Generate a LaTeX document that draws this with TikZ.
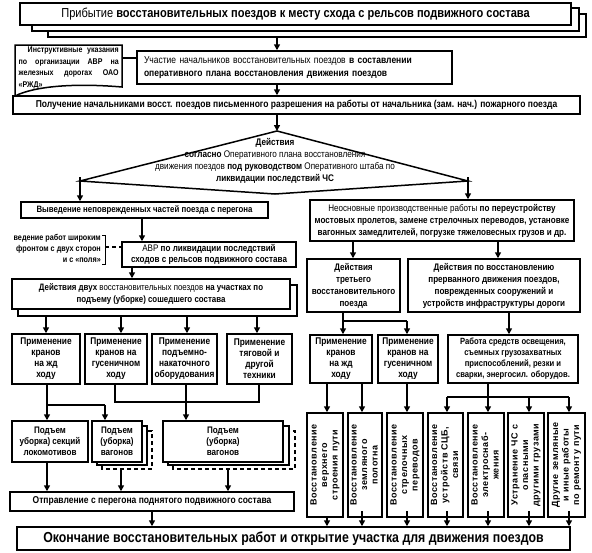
\documentclass[tikz,border=0pt]{standalone}
\usepackage{fontspec}
\usepackage{graphicx}
\setmainfont{Liberation Sans}[FakeStretch=0.85]
\newfontfamily\vfont{Liberation Sans}[LetterSpace=6]
\usetikzlibrary{arrows.meta}
\tikzset{
  bx/.style={draw, line width=1.5pt, fill=white, inner sep=1.5pt, align=center, font=\bfseries\fontsize{9.5}{12}\selectfont},
  arr/.style={line width=1.5pt, -{Triangle[length=6pt,width=6pt]}},
  ln/.style={line width=1.5pt},
  sh/.style={draw, line width=1.5pt, fill=white},
  bb/.style={bx, minimum height=50, font=\bfseries\fontsize{9.8}{11}\selectfont},
  lb/.style={bx, minimum height=41, font=\bfseries\fontsize{9.5}{11}\selectfont},
  vb/.style={bx, minimum height=104, inner sep=0.5pt, font=\vfont\bfseries\fontsize{9}{10.5}\selectfont},
}
\newcommand\vtext[1]{\rotatebox{90}{\begin{tabular}{@{}c@{}}#1\end{tabular}}}
\begin{document}
\begin{tikzpicture}[x=1pt,y=-1pt]
\fill[white] (0,0) rectangle (592,552);
\useasboundingbox (0,0) rectangle (592,552);

% ---- top
\draw[sh] (48,14) rectangle (586,37);
\draw[sh] (32,8) rectangle (579,31);
\node[bx, minimum width=551, minimum height=22, font=\bfseries\fontsize{13}{15}\selectfont] (top) at (295.5,14) {\textmd{Прибытие} восстановительных поездов к месту схода с рельсов подвижного состава};
\coordinate (topS) at (277,37);

% ---- instruction document
\draw[sh] (15,45) -- (122,45) -- (122,87) .. controls (75,83) and (35,86) .. (15,96) -- cycle;
\node[anchor=north west, inner sep=0, align=left, font=\bfseries\fontsize{8.3}{11.5}\selectfont] (instr) at (18.5,47) {\makebox[100pt][s]{\hspace*{9pt}Инструктивные указания}\\ \makebox[100pt][s]{по организации АВР на}\\ \makebox[100pt][s]{железных дорогах ОАО}\\ «РЖД»};
\coordinate (instrE) at (122,58);

\node[bx, text width=301, inner xsep=7, minimum height=33, align=left, font=\bfseries\fontsize{10}{13}\selectfont] (uch) at (294.5,67.5) {\textmd{Участие начальников восстановительных поездов} в составлении\\ оперативного плана восстановления движения поездов};
\draw[ln] (instrE) -- (uch.west |- instrE);
\draw[arr] (topS) -- (topS |- uch.north);

\node[bx, minimum width=567, minimum height=18, font=\bfseries\fontsize{10}{12}\selectfont] (pol) at (296.5,105) {Получение начальниками восст. поездов письменного разрешения на работы от начальника (зам. нач.) пожарного поезда};
\draw[arr] (topS |- uch.south) -- (topS |- pol.north);

% ---- diamond
\coordinate (dT) at (277,131);
\coordinate (dL) at (80,181);
\coordinate (dR) at (468,181);
\coordinate (dB) at (275,194);
\draw[arr] (dT |- pol.south) -- (dT);
\draw[ln, fill=white] (dT) -- (dR) -- (dB) -- (dL) -- cycle;
\node[align=center, inner sep=0, font=\fontsize{9.6}{12}\selectfont] (dtxt) at (275,161) {\textbf{Действия}\\ \textbf{согласно} Оперативного плана восстановления\\ движения поездов \textbf{под руководством} Оперативного штаба по\\ \textbf{ликвидации последствий ЧС}};

% ---- left branch
\node[bx, minimum width=247, minimum height=16, font=\bfseries\fontsize{9.2}{11}\selectfont] (vyv) at (144.5,210) {Выведение неповрежденных частей поезда с перегона};
\draw[arr] ([yshift=4pt]dL) -- (dL |- vyv.north);

\node[bx, minimum width=174, minimum height=25, font=\bfseries\fontsize{9.5}{11}\selectfont] (avr) at (209,254.5) {\textmd{АВР} по ликвидации последствий\\ сходов с рельсов подвижного состава};
\draw[arr] (vyv.south -| 142,0) -- (avr.north -| 142,0);

\node[anchor=east, inner sep=0, align=right, font=\bfseries\fontsize{8.5}{11}\selectfont] (note) at (101,248) {ведение работ широким\\ фронтом с двух сторон\\ и с «поля»};
\draw[line width=1pt] (102,235) -- (105,235) -- (105,264) -- (102,264);
\coordinate (noteE) at (105,247);
\draw[ln, dash pattern=on 4pt off 3pt] (noteE) -- (avr.west |- noteE);

\draw[sh] (18,285) rectangle (297,316);
\node[bx, minimum width=278, minimum height=30, font=\bfseries\fontsize{9.3}{12}\selectfont] (dd) at (151,294) {Действия двух \textmd{восстановительных поездов} на участках по\\ подъему (уборке) сошедшего состава};
\draw[arr] (avr.south -| 132,0) -- (dd.north -| 132,0);
\coordinate (ddS) at (0,316);

\node[bb, minimum width=68] (b1) at (46,359) {Применение\\ кранов\\ на жд\\ ходу};
\node[bb, minimum width=62] (b2) at (116,359) {Применение\\ кранов на\\ гусеничном\\ ходу};
\node[bb, minimum width=65] (b3) at (184.5,359) {Применение\\ подъемно-\\ накаточного\\ оборудования};
\node[bb, minimum width=65] (b4) at (259.5,359) {Применение\\ тяговой и\\ другой\\ техники};
\foreach \xx/\nn in {46/b1,121/b2,187/b3,257/b4}{
  \draw[arr] (ddS -| \xx,0) -- (\nn.north -| \xx,0);
}

\node[lb, minimum width=76] (l1) at (50,441.5) {Подъем\\ уборка) секций\\ локомотивов};
\draw[ln, dash pattern=on 4pt off 3pt] (102,431) rectangle (152,469);
\draw[sh] (97,426) rectangle (147,465);
\node[lb, minimum width=50] (l2) at (117,441.5) {Подъем\\ (уборка)\\ вагонов};
\draw[ln, dash pattern=on 4pt off 3pt] (173,431) rectangle (295,469);
\draw[sh] (168,426) rectangle (289,465);
\node[lb, minimum width=120] (l3) at (223,441.5) {Подъем\\ (уборка)\\ вагонов};

\draw[ln] (b1.south -| 47,0) -- (47,405) -- (105,405);
\draw[arr] (47,405) -- (l1.north -| 47,0);
\draw[arr] (105,405) -- (l2.north -| 105,0);
\draw[ln] (b2.south -| 115,0) -- (115,402) -- (259,402) -- (b4.south -| 259,0);
\draw[ln] (b3.south -| 186,0) -- (186,402);
\draw[arr] (186,402) -- (l3.north -| 186,0);

\node[bx, minimum width=284, minimum height=19, font=\bfseries\fontsize{10}{12}\selectfont] (otp) at (152,501.5) {Отправление с перегона поднятого подвижного состава};
\draw[arr] (l1.south -| 47,0) -- (otp.north -| 47,0);
\draw[arr] (121,469) -- (otp.north -| 121,0);
\draw[arr] (228,469) -- (otp.north -| 228,0);

\node[bx, minimum width=553, minimum height=23, font=\bfseries\fontsize{14.5}{16}\selectfont] (fin) at (293.5,538.5) {Окончание восстановительных работ и открытие участка для движения поездов};
\draw[arr] (otp.south -| 152,0) -- (fin.north -| 152,0);

% ---- right branch
\node[bx, minimum width=264, minimum height=41] (nen) at (442,220.5) {\textmd{Неосновные производственные работы} по переустройству\\ мостовых пролетов, замене стрелочных переводов, установке\\ вагонных замедлителей, погрузке тяжеловесных грузов и др.};
\draw[arr] ([yshift=4pt]dR) -- (dR |- nen.north);

\node[bx, minimum width=93, minimum height=53] (t3) at (353.5,285.5) {Действия\\ третьего\\ восстановительного\\ поезда};
\node[bx, minimum width=172, minimum height=53] (t4) at (494,285.5) {Действия по восстановлению\\ прерванного движения поездов,\\ поврежденных сооружений и\\ устройств инфраструктуры дороги};
\draw[arr] (nen.south -| 353,0) -- (t3.north -| 353,0);
\draw[arr] (nen.south -| 498,0) -- (t4.north -| 498,0);

\node[bb, minimum width=62, minimum height=48] (r1) at (341,359) {Применение\\ кранов\\ на жд\\ ходу};
\node[bb, minimum width=60, minimum height=48] (r2) at (408,359) {Применение\\ кранов на\\ гусеничном\\ ходу};
\node[bx, minimum width=130, minimum height=48, font=\bfseries\fontsize{9}{11}\selectfont] (r3) at (513,359) {Работа средств освещения,\\ съемных грузозахватных\\ приспособлений, резки и\\ сварки, энергосил. оборудов.};
\draw[arr] (t3.south -| 343,0) -- (r1.north -| 343,0);
\draw[ln] (343,321) -- (407,321);
\draw[arr] (407,321) -- (r2.north -| 407,0);
\draw[arr] (t4.south -| 509,0) -- (r3.north -| 509,0);

\node[vb, minimum width=36] (v1) at (325,465) {\vtext{Восстановление\\ верхнего\\ строения пути}};
\node[vb, minimum width=34] (v2) at (365,465) {\vtext{Восстановление\\ земляного\\ полотна}};
\node[vb, minimum width=36] (v3) at (405,465) {\vtext{Восстановление\\ стрелочных\\ переводов}};
\node[vb, minimum width=35] (v4) at (445.5,465) {\vtext{Восстановление\\ устройств СЦБ,\\ связи}};
\node[vb, minimum width=36] (v5) at (486,465) {\vtext{Восстановление\\ электроснаб-\\ жения}};
\node[vb, minimum width=36] (v6) at (526,465) {\vtext{Устранение ЧС с\\ опасными\\ другими грузами}};
\node[vb, minimum width=37] (v7) at (566.5,465) {\vtext{Другие земляные\\ и иные работы\\ по ремонту пути}};

\draw[arr] (r1.south -| 327,0) -- (v1.north -| 327,0);
\draw[arr] (r1.south -| 362,0) -- (v2.north -| 362,0);
\draw[arr] (r2.south -| 407,0) -- (v3.north -| 407,0);
\draw[arr] (r3.south -| 488,0) -- (v5.north -| 488,0);
\draw[line width=2.2pt] (447,397) -- (569,397);
\draw[arr] (447,397) -- (v4.north -| 447,0);
\draw[arr] (529,397) -- (v6.north -| 529,0);
\draw[arr] (569,397) -- (v7.north -| 569,0);

\draw[arr] (v1.south -| 327,0) -- (fin.north -| 327,0);
\foreach \xx in {362,407,447,488,529,569}{
  \draw[arr] (\xx,511) -- (fin.north -| \xx,0);
}
\end{tikzpicture}
\end{document}
